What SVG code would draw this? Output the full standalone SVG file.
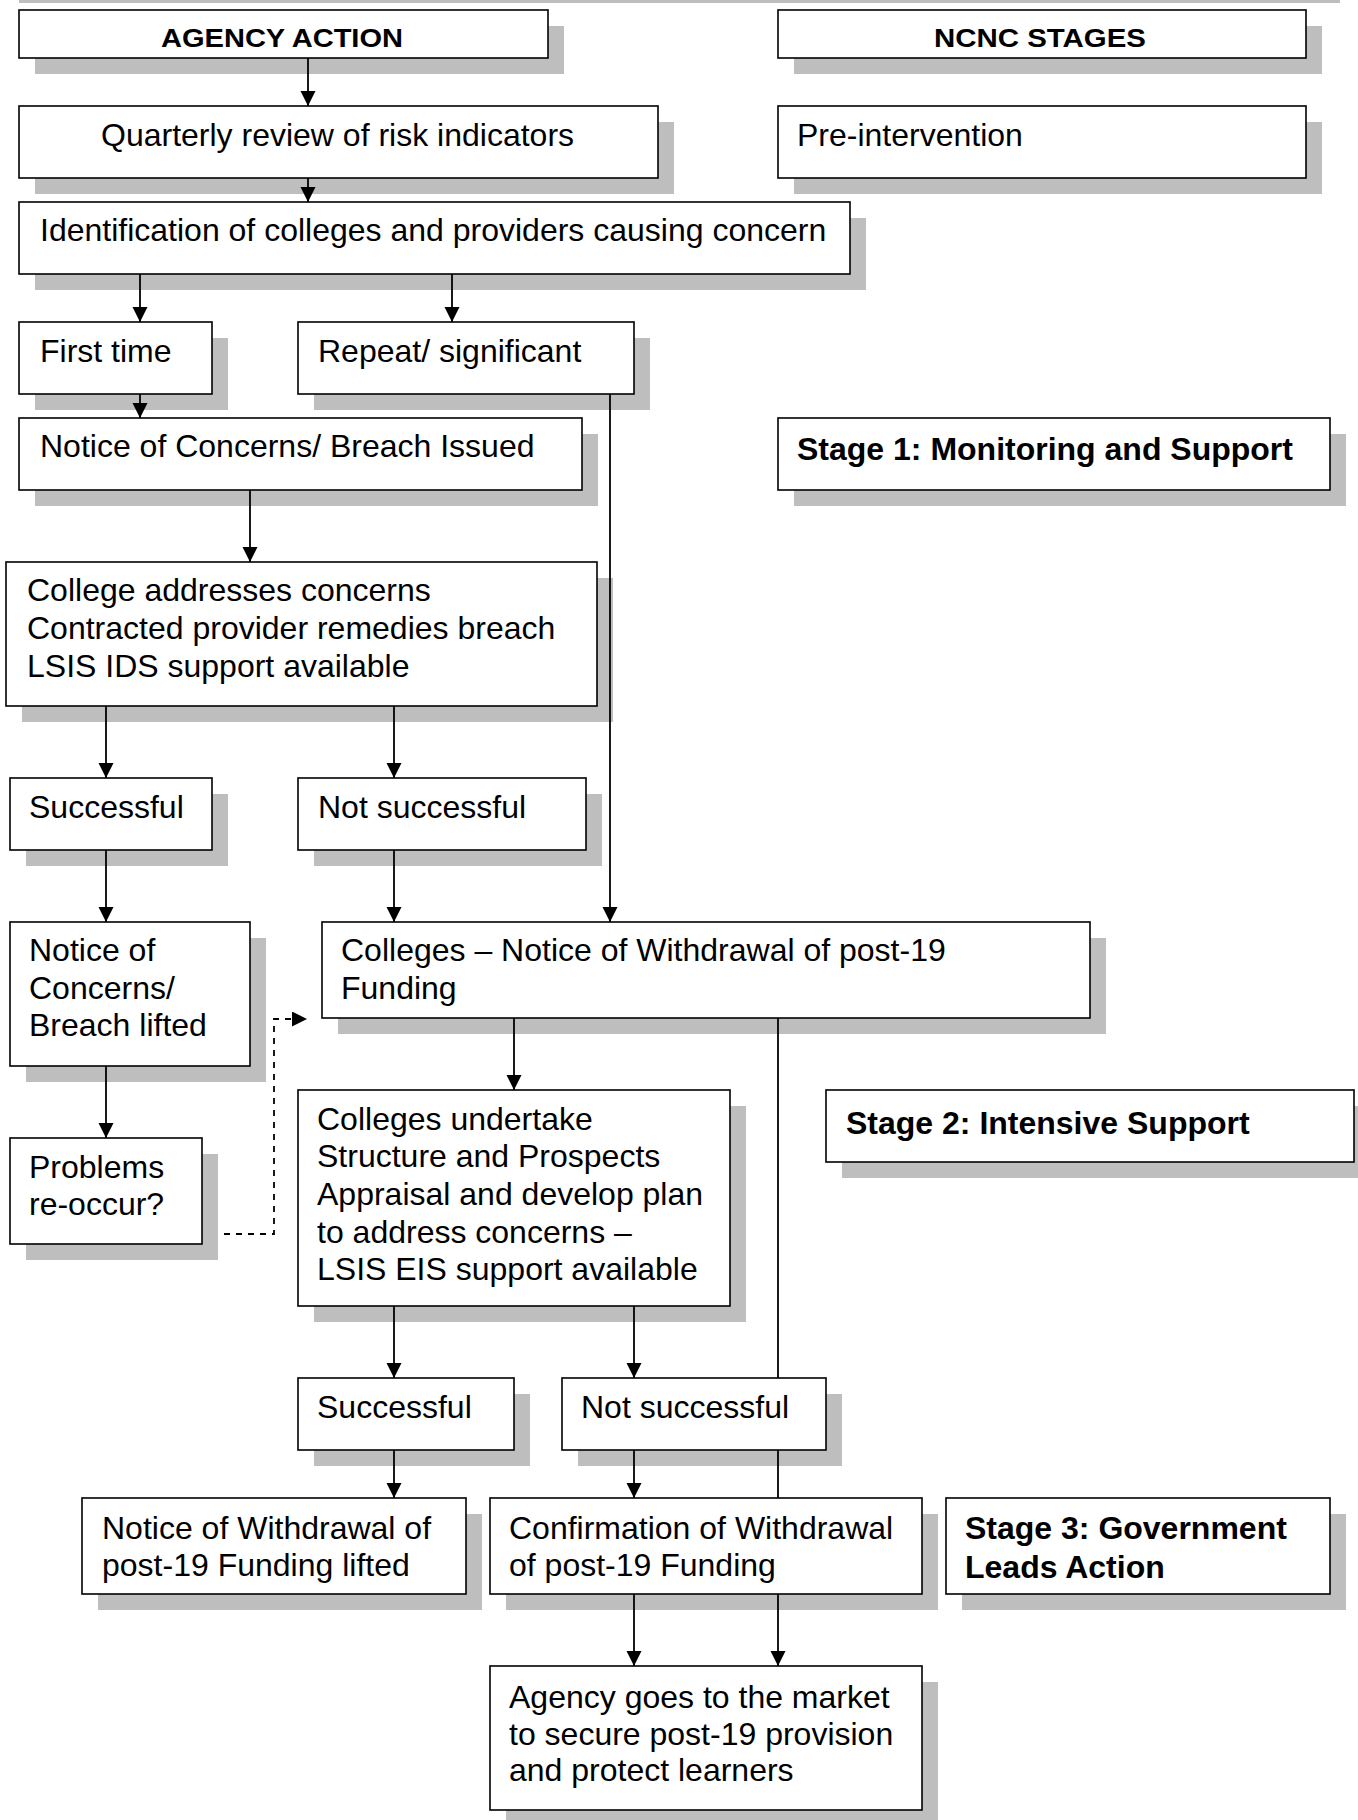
<svg xmlns="http://www.w3.org/2000/svg" width="1358" height="1820" viewBox="0 0 1358 1820">
<style>
  .sh { fill: #bebebe; }
  .bx { fill: #ffffff; stroke: #000000; stroke-width: 1.6; }
  .t { font-family: "Liberation Sans", Arial, sans-serif; font-size: 32px; fill: #000000; }
  .b { font-family: "Liberation Sans", Arial, sans-serif; font-size: 32px; font-weight: bold; fill: #000000; }
  .h { font-family: "Liberation Sans", Arial, sans-serif; font-size: 25px; font-weight: bold; fill: #000000; }
  .ln { fill: none; stroke: #000000; stroke-width: 1.8; }
  .dash { fill: none; stroke: #000000; stroke-width: 1.8; stroke-dasharray: 6 6; }
</style>
<defs>
  <marker id="arr" markerUnits="userSpaceOnUse" markerWidth="16" markerHeight="16" refX="15" refY="7.5" orient="auto">
    <path d="M0,0 L15,7.5 L0,15 z" fill="#000000"/>
  </marker>
</defs>
<rect width="1358" height="1820" fill="#ffffff"/>
<rect class="sh" x="19" y="0" width="1321" height="3"/>

<g id="agency-action">
  <rect class="sh" x="35" y="26" width="529" height="48"/>
  <rect class="bx" x="19" y="10" width="529" height="48"/>
  <text class="h" x="161" y="47" textLength="242" lengthAdjust="spacingAndGlyphs">AGENCY ACTION</text>
</g>
<g id="ncnc-stages">
  <rect class="sh" x="794" y="26" width="528" height="48"/>
  <rect class="bx" x="778" y="10" width="528" height="48"/>
  <text class="h" x="934" y="47" textLength="212" lengthAdjust="spacingAndGlyphs">NCNC STAGES</text>
</g>
<g id="quarterly-review">
  <rect class="sh" x="35" y="122" width="639" height="72"/>
  <rect class="bx" x="19" y="106" width="639" height="72"/>
  <text class="t" x="101" y="146">Quarterly review of risk indicators</text>
</g>
<g id="pre-intervention">
  <rect class="sh" x="794" y="122" width="528" height="72"/>
  <rect class="bx" x="778" y="106" width="528" height="72"/>
  <text class="t" x="797" y="146">Pre-intervention</text>
</g>
<g id="identification">
  <rect class="sh" x="35" y="218" width="831" height="72"/>
  <rect class="bx" x="19" y="202" width="831" height="72"/>
  <text class="t" x="40" y="241">Identification of colleges and providers causing concern</text>
</g>
<g id="first-time">
  <rect class="sh" x="35" y="338" width="193" height="72"/>
  <rect class="bx" x="19" y="322" width="193" height="72"/>
  <text class="t" x="40" y="362">First time</text>
</g>
<g id="repeat-significant">
  <rect class="sh" x="314" y="338" width="336" height="72"/>
  <rect class="bx" x="298" y="322" width="336" height="72"/>
  <text class="t" x="318" y="362">Repeat/ significant</text>
</g>
<g id="notice-issued">
  <rect class="sh" x="35" y="434" width="563" height="72"/>
  <rect class="bx" x="19" y="418" width="563" height="72"/>
  <text class="t" x="40" y="457">Notice of Concerns/ Breach Issued</text>
</g>
<g id="stage-1">
  <rect class="sh" x="794" y="434" width="552" height="72"/>
  <rect class="bx" x="778" y="418" width="552" height="72"/>
  <text class="b" x="797" y="460">Stage 1: Monitoring and Support</text>
</g>
<g id="college-addresses">
  <rect class="sh" x="22" y="578" width="591" height="144"/>
  <rect class="bx" x="6" y="562" width="591" height="144"/>
  <text class="t" x="27" y="601">College addresses concerns</text>
  <text class="t" x="27" y="639">Contracted provider remedies breach</text>
  <text class="t" x="27" y="677">LSIS IDS support available</text>
</g>
<g id="successful-1">
  <rect class="sh" x="26" y="794" width="202" height="72"/>
  <rect class="bx" x="10" y="778" width="202" height="72"/>
  <text class="t" x="29" y="818">Successful</text>
</g>
<g id="not-successful-1">
  <rect class="sh" x="314" y="794" width="288" height="72"/>
  <rect class="bx" x="298" y="778" width="288" height="72"/>
  <text class="t" x="318" y="818">Not successful</text>
</g>
<g id="notice-lifted">
  <rect class="sh" x="26" y="938" width="240" height="144"/>
  <rect class="bx" x="10" y="922" width="240" height="144"/>
  <text class="t" x="29" y="961">Notice of</text>
  <text class="t" x="29" y="999">Concerns/</text>
  <text class="t" x="29" y="1036">Breach lifted</text>
</g>
<g id="colleges-notice-withdrawal">
  <rect class="sh" x="338" y="938" width="768" height="96"/>
  <rect class="bx" x="322" y="922" width="768" height="96"/>
  <text class="t" x="341" y="961">Colleges – Notice of Withdrawal of post-19</text>
  <text class="t" x="341" y="999">Funding</text>
</g>
<g id="problems-reoccur">
  <rect class="sh" x="26" y="1154" width="192" height="106"/>
  <rect class="bx" x="10" y="1138" width="192" height="106"/>
  <text class="t" x="29" y="1178">Problems</text>
  <text class="t" x="29" y="1215">re-occur?</text>
</g>
<g id="colleges-undertake">
  <rect class="sh" x="314" y="1106" width="432" height="216"/>
  <rect class="bx" x="298" y="1090" width="432" height="216"/>
  <text class="t" x="317" y="1130">Colleges undertake</text>
  <text class="t" x="317" y="1167">Structure and Prospects</text>
  <text class="t" x="317" y="1205">Appraisal and develop plan</text>
  <text class="t" x="317" y="1243">to address concerns –</text>
  <text class="t" x="317" y="1280">LSIS EIS support available</text>
</g>
<g id="stage-2">
  <rect class="sh" x="842" y="1106" width="528" height="72"/>
  <rect class="bx" x="826" y="1090" width="528" height="72"/>
  <text class="b" x="846" y="1134">Stage 2: Intensive Support</text>
</g>
<g id="successful-2">
  <rect class="sh" x="314" y="1394" width="216" height="72"/>
  <rect class="bx" x="298" y="1378" width="216" height="72"/>
  <text class="t" x="317" y="1418">Successful</text>
</g>
<g id="not-successful-2">
  <rect class="sh" x="578" y="1394" width="264" height="72"/>
  <rect class="bx" x="562" y="1378" width="264" height="72"/>
  <text class="t" x="581" y="1418">Not successful</text>
</g>
<g id="withdrawal-lifted">
  <rect class="sh" x="98" y="1514" width="384" height="96"/>
  <rect class="bx" x="82" y="1498" width="384" height="96"/>
  <text class="t" x="102" y="1539">Notice of Withdrawal of</text>
  <text class="t" x="102" y="1576">post-19 Funding lifted</text>
</g>
<g id="confirmation-withdrawal">
  <rect class="sh" x="506" y="1514" width="432" height="96"/>
  <rect class="bx" x="490" y="1498" width="432" height="96"/>
  <text class="t" x="509" y="1539">Confirmation of Withdrawal</text>
  <text class="t" x="509" y="1576">of post-19 Funding</text>
</g>
<g id="stage-3">
  <rect class="sh" x="962" y="1514" width="384" height="96"/>
  <rect class="bx" x="946" y="1498" width="384" height="96"/>
  <text class="b" x="965" y="1539">Stage 3: Government</text>
  <text class="b" x="965" y="1578">Leads Action</text>
</g>
<g id="agency-market">
  <rect class="sh" x="506" y="1682" width="432" height="144"/>
  <rect class="bx" x="490" y="1666" width="432" height="144"/>
  <text class="t" x="509" y="1708">Agency goes to the market</text>
  <text class="t" x="509" y="1745">to secure post-19 provision</text>
  <text class="t" x="509" y="1781">and protect learners</text>
</g>

<g id="connectors">
  <path class="ln" d="M308,58 V106" marker-end="url(#arr)"/>
  <path class="ln" d="M308,178 V202" marker-end="url(#arr)"/>
  <path class="ln" d="M140,274 V322" marker-end="url(#arr)"/>
  <path class="ln" d="M452,274 V322" marker-end="url(#arr)"/>
  <path class="ln" d="M140,394 V418" marker-end="url(#arr)"/>
  <path class="ln" d="M610,394 V922" marker-end="url(#arr)"/>
  <path class="ln" d="M250,490 V562" marker-end="url(#arr)"/>
  <path class="ln" d="M106,706 V778" marker-end="url(#arr)"/>
  <path class="ln" d="M394,706 V778" marker-end="url(#arr)"/>
  <path class="ln" d="M106,850 V922" marker-end="url(#arr)"/>
  <path class="ln" d="M394,850 V922" marker-end="url(#arr)"/>
  <path class="ln" d="M106,1066 V1138" marker-end="url(#arr)"/>
  <path class="ln" d="M514,1018 V1090" marker-end="url(#arr)"/>
  <path class="ln" d="M394,1306 V1378" marker-end="url(#arr)"/>
  <path class="ln" d="M634,1306 V1378" marker-end="url(#arr)"/>
  <path class="ln" d="M394,1450 V1498" marker-end="url(#arr)"/>
  <path class="ln" d="M634,1450 V1498" marker-end="url(#arr)"/>
  <path class="ln" d="M634,1594 V1666" marker-end="url(#arr)"/>
  <path class="ln" d="M778,1018 V1378"/>
  <path class="ln" d="M778,1450 V1498"/>
  <path class="ln" d="M778,1594 V1666" marker-end="url(#arr)"/>
  <path class="dash" d="M224,1234 H274 V1019 H307" marker-end="url(#arr)"/>
</g>
</svg>
